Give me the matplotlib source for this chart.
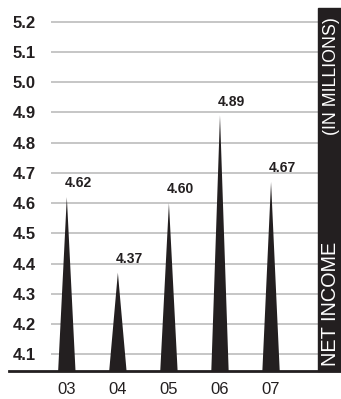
import matplotlib.pyplot as plt
from matplotlib.patches import Rectangle
from matplotlib.lines import Line2D

years = ["03", "04", "05", "06", "07"]
income = [4.62, 4.37, 4.60, 4.89, 4.67]
y_ticks = [4.1, 4.2, 4.3, 4.4, 4.5, 4.6, 4.7, 4.8, 4.9, 5.0, 5.1, 5.2]

font = "Liberation Sans"
ink = "#231f20"

fig = plt.figure(figsize=(3.41, 3.99), dpi=100)
W, H = 341, 399
ax = fig.add_axes([51 / W, 1 - 371 / H, (318 - 51) / W, (371 - 8) / H])

base = 4.045
half = 0.17
for i, v in enumerate(income):
    ax.fill([i - half, i, i + half], [base, v, base], color=ink, lw=0, zorder=3)
    ax.text(i - 0.05, v + 0.022, f"{v:.2f}", ha="left", va="bottom",
            fontsize=10, fontweight="bold", family=font, color=ink, zorder=4)

for t in y_ticks:
    ax.axhline(t, color="#c6c6c6", lw=1.4, zorder=1)

ax.set_xlim(-0.31, 4.92)
ax.set_ylim(base, 5.245)
ax.set_yticks(y_ticks)
ax.set_yticklabels([f"{t:.1f}" for t in y_ticks], family=font,
                   fontweight="bold", fontsize=12, color=ink)
ax.set_xticks(range(len(years)))
ax.set_xticklabels(years, family=font, fontsize=12, color=ink)
ax.tick_params(axis="y", length=0, pad=11)
ax.tick_params(axis="x", length=0, pad=8)
for s in ax.spines.values():
    s.set_visible(False)

# dark side band with the axis title
fig.patches.append(Rectangle((318 / W, 1 - 371 / H), 23 / W, (371 - 8) / H,
                             transform=fig.transFigure, color=ink, zorder=0))
fig.text(331 / W, 1 - 366 / H, "NET INCOME", rotation=90, ha="center", va="bottom",
         color="white", fontsize=14.3, family=font)
fig.text(331 / W, 1 - 17 / H, "(IN MILLIONS)", rotation=90, ha="center", va="top",
         color="white", fontsize=12.8, family=font)

fig.lines.append(Line2D([9 / W, 1], [1 - 371 / H, 1 - 371 / H], transform=fig.transFigure,
                        color=ink, lw=2))

fig.savefig("out.png", dpi=100)
